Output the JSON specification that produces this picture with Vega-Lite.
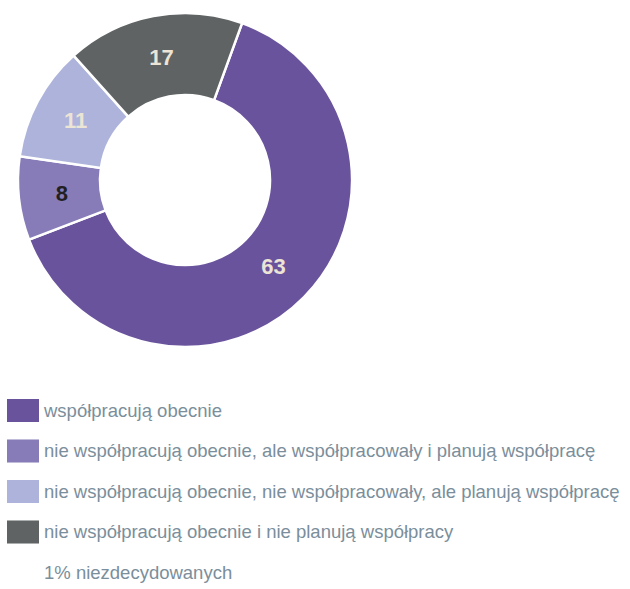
{
  "$schema": "https://vega.github.io/schema/vega-lite/v6.json",
  "width": 370,
  "height": 360,
  "padding": 0,
  "background": "white",
  "view": {"stroke": null},
  "data": {"values": [
    {"kategoria": "współpracują obecnie", "procent": 63, "kolejnosc": 1},
    {"kategoria": "nie współpracują obecnie, ale współpracowały i planują współpracę", "procent": 8, "kolejnosc": 2},
    {"kategoria": "nie współpracują obecnie, nie współpracowały, ale planują współpracę", "procent": 11, "kolejnosc": 3},
    {"kategoria": "nie współpracują obecnie i nie planują współpracy", "procent": 17, "kolejnosc": 4}
  ]},
  "encoding": {
    "theta": {"field": "procent", "type": "quantitative", "stack": true, "scale": {"range": [0.349, 6.632]}},
    "order": {"field": "kolejnosc", "type": "quantitative"}
  },
  "layer": [
    {
      "mark": {"type": "arc", "innerRadius": 85, "outerRadius": 167, "stroke": "white", "strokeWidth": 2.5},
      "encoding": {
        "color": {
          "field": "kategoria",
          "type": "nominal",
          "scale": {
            "domain": [
              "współpracują obecnie",
              "nie współpracują obecnie, ale współpracowały i planują współpracę",
              "nie współpracują obecnie, nie współpracowały, ale planują współpracę",
              "nie współpracują obecnie i nie planują współpracy",
              "1% niezdecydowanych"
            ],
            "range": ["#6a539d", "#877cb8", "#adb3db", "#5f6364", "transparent"]
          },
          "legend": {
            "orient": "none",
            "legendX": 7,
            "legendY": 394.5,
            "title": null,
            "symbolType": "M-1,-0.72L1,-0.72L1,0.72L-1,0.72Z",
            "symbolSize": 1024,
            "symbolStrokeWidth": 0,
            "symbolOpacity": 1,
            "labelFont": "Liberation Sans",
            "labelFontSize": 18.5,
            "labelColor": "#7b8e9b",
            "labelLimit": 0,
            "labelOffset": 5,
            "rowPadding": 12.5
          }
        }
      }
    },
    {
      "mark": {"type": "text", "radius": 124, "font": "Liberation Sans", "fontSize": 22, "fontWeight": "bold"},
      "encoding": {
        "text": {"field": "procent", "type": "quantitative"},
        "color": {"condition": {"test": "datum.procent == 8", "value": "#231f20"}, "value": "#ece5d5"}
      }
    }
  ]
}
